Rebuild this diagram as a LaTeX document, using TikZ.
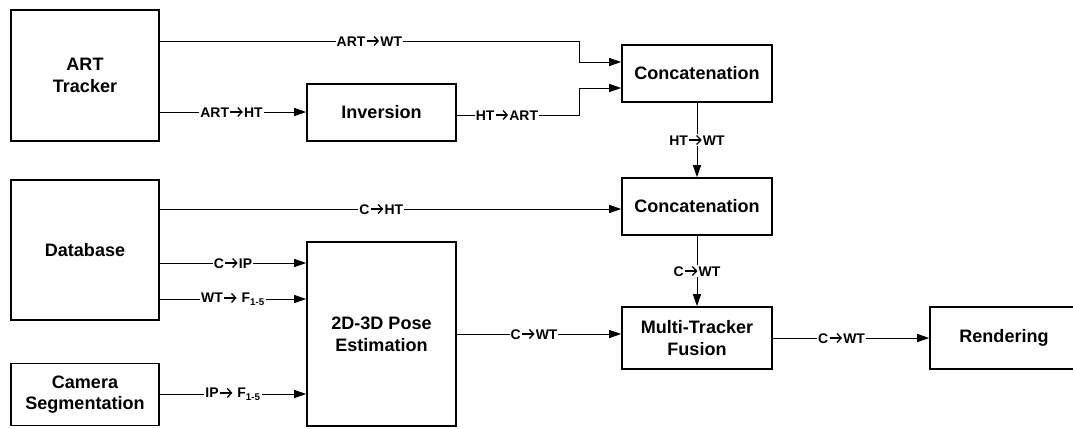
\documentclass[tikz,border=0pt]{standalone}
\usepackage{fontspec}
\setmainfont{Liberation Sans}
\usetikzlibrary{arrows.meta}
\tikzset{
  blk/.style={draw, line width=1.6bp, font=\bfseries\fontsize{18.1}{21.8}\selectfont, align=center, inner sep=0pt},
  lbl/.style={fill=white, font=\bfseries\fontsize{14}{16}\selectfont, inner xsep=1bp, inner ysep=1bp},
  arr/.style={line width=1bp, -{Triangle[length=12bp,width=8bp]}},
}
\newcommand{\myra}{\hspace{0.6bp}\tikz[baseline=0bp]{\draw[line width=1.3bp, fill=none, -{Straight Barb[length=4.2bp,width=9bp,line width=1.3bp]}] (0bp,5bp) -- (12.5bp,5bp);}\hspace{0.6bp}}
\begin{document}
\begin{tikzpicture}[x=1bp,y=-1bp]
\useasboundingbox (0,0) rectangle (1073,428);
% blocks
\node[blk, minimum width=148bp, minimum height=131bp] (art) at (85,75.5) {ART\\Tracker};
\node[blk, minimum width=149bp, minimum height=57bp] (inv) at (381.5,112.5) {Inversion};
\node[blk, minimum width=150bp, minimum height=57bp] (cat1) at (697,73.5) {Concatenation};
\node[blk, minimum width=150bp, minimum height=57bp] (cat2) at (697,206.5) {Concatenation};
\node[blk, minimum width=148bp, minimum height=140bp] (db) at (85,250) {Database};
\node[blk, minimum width=148bp, minimum height=62bp] (cam) at (85,394.5) {Camera\\Segmentation};
\node[blk, minimum width=149bp, minimum height=184bp] (pose) at (381.5,334) {2D-3D Pose\\Estimation};
\node[blk, minimum width=150bp, minimum height=62bp] (fus) at (697,338) {Multi-Tracker\\Fusion};
\node[blk, minimum width=148bp, minimum height=62bp] (ren) at (1004,338) {Rendering};
% bend points
\coordinate (b1) at (579,41);
\coordinate (b2) at (579,115);
% connectors
\draw[arr] (art.east |- 0,41) -- node[lbl]{ART\myra WT} (b1) |- (cat1.west |- 0,62);
\draw[arr] (art.east |- 0,112) -- node[lbl,pos=0.49]{ART\myra HT} (inv.west |- 0,112);
\draw[arr] (inv.east |- 0,115) -- node[lbl,pos=0.41]{HT\myra ART} (b2) |- (cat1.west |- 0,88);
\draw[arr] (cat1.south) -- node[lbl]{HT\myra WT} (cat2.north);
\draw[arr] (db.east |- 0,209) -- node[lbl,pos=0.48]{C\myra HT} (cat2.west |- 0,209);
\draw[arr] (db.east |- 0,263) -- node[lbl]{C\myra IP} (pose.west |- 0,263);
\draw[arr] (db.east |- 0,299) -- node[lbl]{WT\myra{} F\textsubscript{1-5}} (pose.west |- 0,299);
\draw[arr] (cam.east |- 0,394) -- node[lbl]{IP\myra{} F\textsubscript{1-5}} (pose.west |- 0,394);
\draw[arr] (pose.east |- 0,334) -- node[lbl,pos=0.47]{C\myra WT} (fus.west |- 0,334);
\draw[arr] (cat2.south) -- node[lbl]{C\myra WT} (fus.north);
\draw[arr] (fus.east) -- node[lbl,pos=0.44]{C\myra WT} (ren.west);
\end{tikzpicture}
\end{document}
